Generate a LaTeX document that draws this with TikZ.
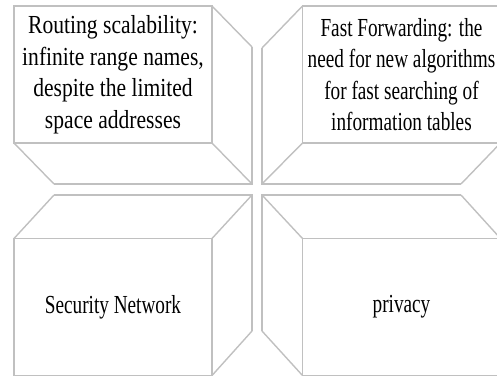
\documentclass[tikz,border=0pt]{standalone}
\usepackage{fontspec}
\setmainfont{Liberation Serif}
\newfontfamily\wideserif[FakeStretch=0.83]{Liberation Serif}
\newfontfamily\narrowserif[FakeStretch=0.74]{Liberation Serif}
\usetikzlibrary{calc}
\definecolor{linegray}{RGB}{192,192,192}
\tikzset{
  edge/.style={draw=linegray, line width=1.4pt, line join=miter},
  face/.style={draw=linegray, line width=1.4pt, fill=white, minimum width=198pt,
    minimum height=137pt, inner sep=0pt, outer sep=0pt, align=center,
    font=\fontsize{26}{31.5}\selectfont}
}
\begin{document}
\begin{tikzpicture}[x=1pt, y=-1pt]
\useasboundingbox (0,0) rectangle (497,378);
\clip (0,0) rectangle (497,378);
% ---- top-left box
\coordinate (tlbne) at (252,47);
\coordinate (tlbse) at (252,184);
\coordinate (tlbsw) at (54,184);
\draw[edge] (tlbne) -- (tlbse) -- (tlbsw);
\node[face] (tl) at (113,74.5) {\wideserif Routing scalability:\\ \wideserif infinite range names,\\ \wideserif despite the limited\\ \wideserif space addresses};
\draw[edge] (tl.north east) -- (tlbne);
\draw[edge] (tl.south east) -- (tlbse);
\draw[edge] (tl.south west) -- (tlbsw);
% ---- top-right box
\coordinate (trbnw) at (262,48);
\coordinate (trbsw) at (262,184);
\coordinate (trbse) at (461,184);
\draw[edge] (trbnw) -- (trbsw) -- (trbse);
\node[face] (tr) at (401.5,74.5) {\narrowserif Fast Forwarding: the\\ \narrowserif need for new algorithms\\ \narrowserif for fast searching of\\ \narrowserif information tables};
\draw[edge] (tr.north west) -- (trbnw);
\draw[edge] (tr.south west) -- (trbsw);
\draw[edge] (tr.south east) -- (trbse);
% ---- bottom-left box
\coordinate (blbnw) at (54,195);
\coordinate (blbne) at (252,195);
\coordinate (blbse) at (252,331);
\draw[edge] (blbnw) -- (blbne) -- (blbse);
\node[face] (bl) at (113,307) {\narrowserif Security Network};
\draw[edge] (bl.north west) -- (blbnw);
\draw[edge] (bl.north east) -- (blbne);
\draw[edge] (bl.south east) -- (blbse);
% ---- bottom-right box
\coordinate (brbnw) at (262,195);
\coordinate (brbne) at (461,195);
\coordinate (brbsw) at (262,331);
\draw[edge] (brbne) -- (brbnw) -- (brbsw);
\node[face] (br) at (401.5,307) {\narrowserif privacy};
\draw[edge] (br.north west) -- (brbnw);
\draw[edge] (br.north east) -- (brbne);
\draw[edge] (br.south west) -- (brbsw);
\end{tikzpicture}
\end{document}
